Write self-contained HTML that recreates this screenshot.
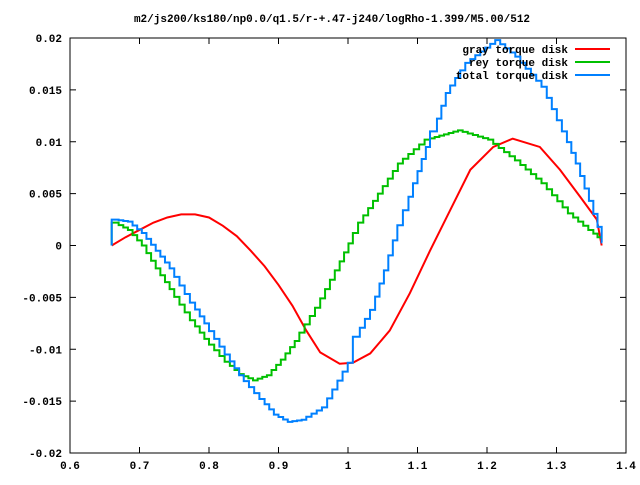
<!DOCTYPE html>
<html><head><meta charset="utf-8"><style>
body{margin:0;background:#fff}
svg text{font-family:"Liberation Mono","DejaVu Sans Mono",monospace;font-size:11px;font-weight:bold;fill:#000}
</style></head><body>
<svg id="chart" width="640" height="480" xmlns="http://www.w3.org/2000/svg">
<text x="332" y="22" text-anchor="middle">m2/js200/ks180/np0.0/q1.5/r-+.47-j240/logRho-1.399/M5.00/512</text>
<rect x="70" y="38" width="556" height="415" fill="none" stroke="#000" stroke-width="1"/>
<g id="axes"></g><g id="series"></g><g id="legend"></g>
</svg>
<script>
const xTicks=[0.6,0.7,0.8,0.9,1,1.1,1.2,1.3,1.4];
const xTickLabels=["0.6","0.7","0.8","0.9","1","1.1","1.2","1.3","1.4"];
const yTicks=[-0.02,-0.015,-0.01,-0.005,0,0.005,0.01,0.015,0.02];
const yTickLabels=["-0.02","-0.015","-0.01","-0.005","0","0.005","0.01","0.015","0.02"];
const grayX=[0.66,0.68,0.70,0.72,0.74,0.76,0.78,0.80,0.82,0.84,0.86,0.88,0.90,0.92,0.94,0.96,0.988,1.007,1.032,1.06,1.089,1.118,1.147,1.176,1.209,1.237,1.276,1.305,1.334,1.358,1.365];
const grayY=[0,0.0008,0.0015,0.0022,0.0027,0.003,0.003,0.0027,0.0019,0.0009,-0.0005,-0.002,-0.0038,-0.0058,-0.0082,-0.0103,-0.0114,-0.0113,-0.0104,-0.0082,-0.0046,-0.0005,0.0034,0.0073,0.0095,0.0103,0.0095,0.0073,0.0047,0.0025,0.0];
const reyX=[0.66,0.67,0.69,0.71,0.73,0.75,0.78,0.80,0.83,0.85,0.87,0.89,0.91,0.93,0.96,0.988,1.007,1.022,1.05,1.079,1.118,1.165,1.209,1.248,1.286,1.324,1.353,1.365];
const reyY=[0,0.0022,0.0015,0.0,-0.0022,-0.0042,-0.0072,-0.009,-0.0112,-0.0124,-0.013,-0.0125,-0.011,-0.0092,-0.006,-0.0024,0.0002,0.0022,0.005,0.0079,0.0102,0.0111,0.0102,0.0082,0.006,0.0031,0.0015,0.0008];
const totalX=[0.66,0.67,0.69,0.71,0.73,0.75,0.78,0.80,0.83,0.85,0.88,0.90,0.92,0.94,0.97,1.007,1.017,1.039,1.058,1.071,1.087,1.10,1.118,1.128,1.147,1.176,1.219,1.248,1.286,1.315,1.334,1.353,1.365,1.366];
const totalY=[0,0.0025,0.0023,0.0012,-0.0005,-0.0022,-0.0055,-0.0075,-0.0105,-0.0125,-0.0148,-0.0163,-0.017,-0.0168,-0.0156,-0.0113,-0.0088,-0.0062,-0.0024,0.0005,0.0034,0.006,0.0095,0.011,0.0147,0.0176,0.0198,0.0182,0.0153,0.011,0.0079,0.0043,0.0018,0.0003];
const NS="http://www.w3.org/2000/svg";
function sx(v){return 70+(v-0.6)/0.8*556;}
function sy(v){return 245.5-v/0.02*207.5;}
function mk(tag,attrs,parent){const e=document.createElementNS(NS,tag);for(const k in attrs)e.setAttribute(k,attrs[k]);parent.appendChild(e);return e;}
const axes=document.getElementById('axes');
xTicks.forEach((t,i)=>{
 const l=mk('line',{x1:sx(t),x2:sx(t),y1:453,y2:447,stroke:'#000'},axes);
 
 
 const l2=mk('line',{x1:sx(t),x2:sx(t),y1:38,y2:44,stroke:'#000'},axes);
 
 
 const tx=mk('text',{x:sx(t),y:469,'text-anchor':'middle'},axes);tx.textContent=xTickLabels[i];
 
 
});
yTicks.forEach((t,i)=>{
 const l=mk('line',{x1:70,x2:76,y1:sy(t),y2:sy(t),stroke:'#000'},axes);
 
 
 const l2=mk('line',{x1:620,x2:626,y1:sy(t),y2:sy(t),stroke:'#000'},axes);
 
 
 const tx=mk('text',{x:62,y:sy(t)+4,'text-anchor':'end'},axes);tx.textContent=yTickLabels[i];
 
 
});
const ser=document.getElementById('series');
function line(xs,ys,color,name,step){
 let pts=[];
 xs.forEach((x,i)=>{
  if(step&&i>0){
   const n=Math.max(1,Math.round((sx(x)-sx(xs[i-1]))/5));
   for(let k=1;k<=n;k++){
    const px=sx(xs[i-1])+(sx(x)-sx(xs[i-1]))*k/n;
    const py=sy(ys[i-1])+(sy(ys[i])-sy(ys[i-1]))*k/n;
    const prevX=sx(xs[i-1])+(sx(x)-sx(xs[i-1]))*(k-1)/n;
    pts.push(prevX+','+py,px+','+py);
   }
  } else pts.push(sx(x)+','+sy(ys[i]));
 });
 const p=mk('polyline',{points:pts.join(' '),fill:'none',stroke:color,'stroke-width':2},ser);
 
 
}
line(grayX,grayY,'#ff0000','gray-torque-line',false);
line(reyX,reyY,'#00c000','rey-torque-line',true);
line(totalX,totalY,'#0080ff','total-torque-line',true);
const leg=document.getElementById('legend');
[['gray torque disk','#ff0000'],['rey torque disk','#00c000'],['total torque disk','#0080ff']].forEach((e,i)=>{
 const y=49+i*13;
 const t=mk('text',{x:568,y:y+4,'text-anchor':'end'},leg);t.textContent=e[0];
 
 
 const l=mk('line',{x1:575,x2:610,y1:y,y2:y,stroke:e[1],'stroke-width':2},leg);
 
 
});
</script>
</body></html>
